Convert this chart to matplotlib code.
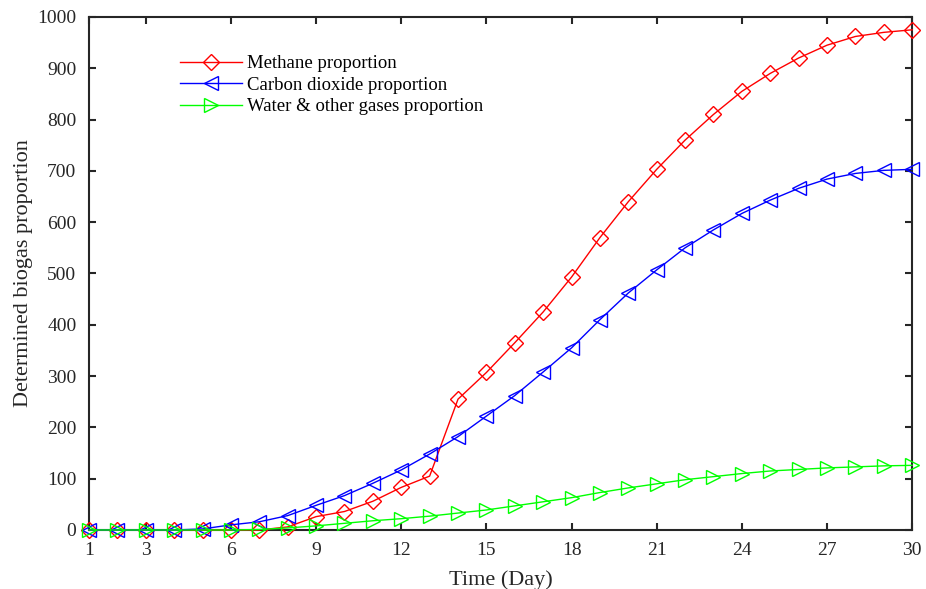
import matplotlib
matplotlib.use("Agg")
import matplotlib.pyplot as plt

days = list(range(1, 31))
methane = [0, 0, 0, 0, 0, 0, 0, 6, 26, 36, 56, 83, 105, 255, 307, 365, 425, 493, 570,
           640, 703, 760, 810, 855, 890, 920, 945, 962, 970, 975]
co2 = [0, 0, 0, 0, 2, 10, 16, 28, 48, 67, 91, 117, 148, 182, 222, 262, 308, 355, 410,
       462, 507, 550, 585, 617, 643, 666, 684, 695, 701, 703]
water = [0, 0, 0, 0, 0, 0, 1, 4, 8, 13, 18, 22, 27, 33, 39, 47, 55, 63, 73,
         82, 90, 98, 104, 110, 115, 118, 121, 123, 125, 126]
labels = ["Methane proportion", "Carbon dioxide proportion", "Water & other gases proportion"]
xticks = [1, 3, 6, 9, 12, 15, 18, 21, 24, 27, 30]
yticks = list(range(0, 1001, 100))

plt.rcParams['font.family'] = ['Liberation Serif', 'DejaVu Serif']
fig = plt.figure(figsize=(9.26, 5.89), dpi=100)
ax = fig.add_axes([0.0961, 0.1002, 0.889, 0.8710])

ax.plot(days, methane, color='#ff0000', lw=1, marker='D', ms=8, mfc='none', mew=1,
        label=labels[0], clip_on=False, zorder=3)
ax.plot(days, co2, color='#0000ff', lw=1, marker='<', ms=10, mfc='none', mew=1,
        label=labels[1], clip_on=False, zorder=3)
ax.plot(days, water, color='#00ff00', lw=1, marker='>', ms=10, mfc='none', mew=1,
        label=labels[2], clip_on=False, zorder=3)

ax.set_xlim(1, 30)
ax.set_ylim(0, 1000)
ax.set_xticks(xticks)
ax.set_yticks(yticks)
ax.tick_params(direction='in', top=True, right=True, length=5, width=1.5, labelsize=14,
               colors='#262626')
ax.tick_params(axis='x', pad=9)
ax.tick_params(axis='y', pad=9)
for s in ax.spines.values():
    s.set_linewidth(1.5)
    s.set_color('#262626')
ax.set_xlabel("Time (Day)", fontsize=16, color='#262626', labelpad=8)
ax.set_ylabel("Determined biogas proportion", fontsize=16, color='#262626', labelpad=3)

leg = ax.legend(loc='upper left', bbox_to_anchor=(0.1015, 0.94), borderaxespad=0,
                frameon=False, fontsize=13.5, handlelength=3.3, labelspacing=0.23,
                handletextpad=0.27)

fig.savefig("out.png", dpi=100)
